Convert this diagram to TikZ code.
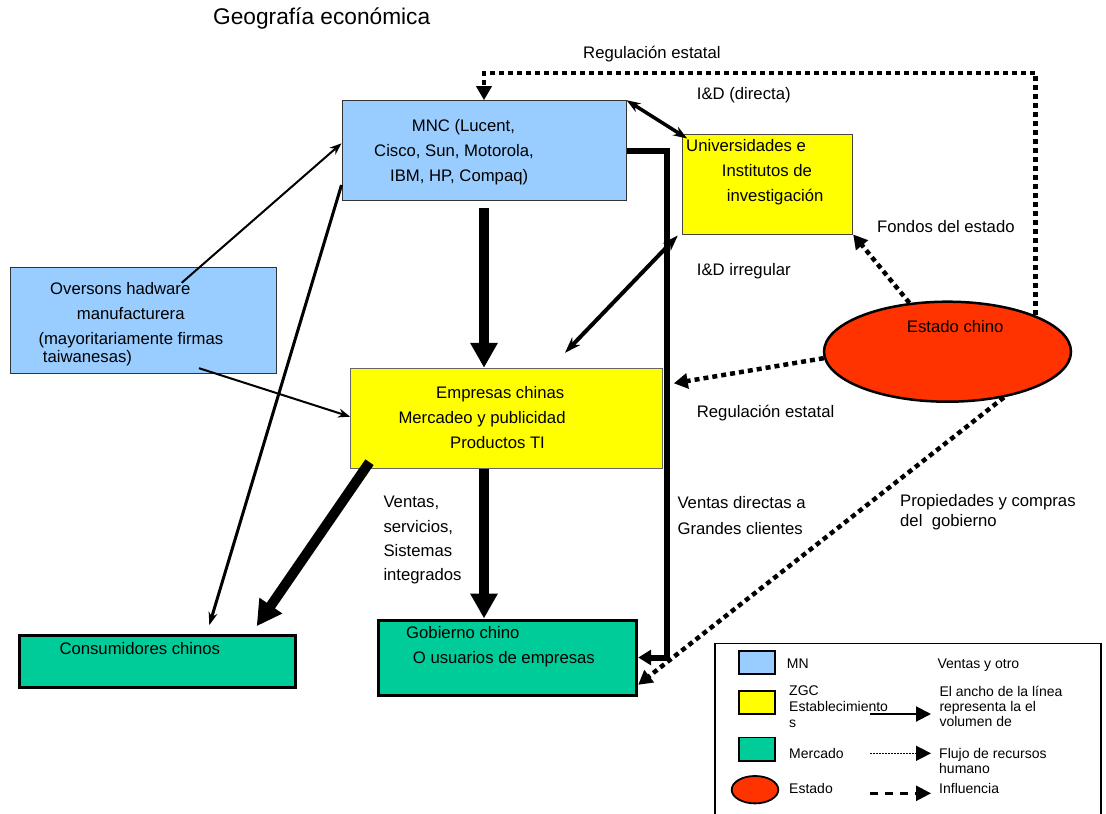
\documentclass[tikz,border=0pt]{standalone}
\usepackage{fontspec}
\setmainfont{Liberation Sans}
\usetikzlibrary{arrows.meta,shapes.geometric}
\definecolor{mnblue}{HTML}{99CCFF}
\definecolor{zgcyellow}{HTML}{FFFF00}
\definecolor{mktgreen}{HTML}{00CC99}
\definecolor{estred}{HTML}{FF3300}
\begin{document}
\begin{tikzpicture}[x=1pt,y=-1pt,
  boxthin/.style={rectangle, draw=black!80, line width=1pt, inner sep=0pt},
  boxthick/.style={rectangle, draw=black, line width=3pt, inner sep=0pt},
  txt/.style={anchor=base west, inner sep=0pt, align=left, font=\fontsize{16.7pt}{25pt}\selectfont},
  lgd/.style={anchor=base west, inner sep=0pt, align=left, font=\fontsize{14pt}{16pt}\selectfont},
  infl/.style={line width=4.5pt, dash pattern=on 5pt off 4pt, line join=miter, -{Triangle[length=14pt,width=15pt]}},
  heavy/.style={line width=10pt, -{Triangle[length=25pt,width=26pt]}},
  thinarr/.style={line width=2pt, -{Stealth[length=12pt,width=9pt]}},
  medarr/.style={line width=3pt, -{Stealth[length=13pt,width=9pt]}},
  dblarr/.style={line width=3.5pt, {Stealth[length=14pt,width=10pt]}-{Stealth[length=14pt,width=10pt]}},
  swatch/.style={rectangle, draw=black, line width=1.8pt, inner sep=0pt, minimum width=35.7pt, minimum height=23.6pt}
]
\useasboundingbox (0,0) rectangle (1106,814);
\fill[white] (0,0) rectangle (1106,814);

% boxes
\node[boxthin, fill=mnblue, minimum width=284pt, minimum height=100pt] (mnc) at (484,150.7) {};
\node[boxthin, draw=black!70!yellow!60!black, fill=zgcyellow, minimum width=170pt, minimum height=100pt] (uni) at (767.7,184) {};
\node[boxthin, fill=mnblue, minimum width=266pt, minimum height=106pt] (ove) at (143,320.3) {};
\node[boxthin, draw=black!60, fill=zgcyellow, minimum width=312pt, minimum height=100pt] (emp) at (506.7,418.3) {};
\node[boxthick, fill=mktgreen, minimum width=276pt, minimum height=51.6pt] (con) at (157,661.5) {};
\node[boxthick, fill=mktgreen, minimum width=258.4pt, minimum height=75pt] (gob) at (507.5,657.5) {};
\node[ellipse, draw=black, line width=2.5pt, fill=estred, minimum width=247pt, minimum height=100pt, inner sep=0pt] (est) at (947.5,351.7) {};

% box texts (multi-line nodes are placed at the baseline of their last line)
\node[txt, font=\fontsize{22.7pt}{26pt}\selectfont] (tTitle) at (213,24) {Geografía económica};
\node[txt] (tMNC) at (374,181.7) {\hspace*{37.7pt}MNC (Lucent,\\Cisco, Sun, Motorola,\\\hspace*{16pt}IBM, HP, Compaq)};
\node[txt] (tUni) at (686,201.7) {Universidades e\\\hspace*{35.7pt}Institutos de\\\hspace*{40.7pt}investigación};
\node[txt] (tOve) at (38.3,362.7) {\hspace*{11.7pt}Oversons hadware\\\hspace*{38.4pt}manufacturera\\(mayoritariamente firmas\\[-6.6pt]\hspace*{4.4pt}taiwanesas)};
\node[txt] (tEmp) at (398.3,448.3) {\hspace*{37.7pt}Empresas chinas\\Mercadeo y publicidad\\\hspace*{51.7pt}Productos TI};
\node[txt] (tCon) at (59.3,654.3) {Consumidores chinos};
\node[txt] (tGob) at (406,663.3) {Gobierno chino\\\hspace*{6.7pt}O usuarios de empresas};
\node[txt] (tEst) at (906.7,332.7) {Estado chino};

% connector labels
\node[txt] (lReg1) at (583,58.7) {Regulación estatal};
\node[txt] (lIDd) at (696.7,99.3) {I\&D (directa)};
\node[txt] (lFon) at (877,232.5) {Fondos del estado};
\node[txt] (lIDi) at (696.7,275.3) {I\&D irregular};
\node[txt] (lReg2) at (696.7,417) {Regulación estatal};
\node[txt, font=\fontsize{16.7pt}{24.4pt}\selectfont] (lVen) at (383.3,580.9) {Ventas,\\servicios,\\Sistemas\\integrados};
\node[txt, font=\fontsize{16.7pt}{25.6pt}\selectfont] (lVdir) at (677.3,534.3) {Ventas directas a\\Grandes clientes};
\node[txt, font=\fontsize{16.7pt}{19.3pt}\selectfont] (lProp) at (900,526) {Propiedades y compras\\del\ \ gobierno};

% connectors
\draw[infl] (est.north east) |- ([yshift=27pt]mnc.north) -- (mnc.north);
\draw[dblarr] (mnc.north east) -- ([shift={(5,5)}]uni.north west);
\draw[line width=6pt, line join=miter, -{Triangle[length=13pt,width=15pt]}] (mnc.east) -| ([xshift=29pt]gob.east) -- (gob.east);
\draw[heavy] ([yshift=-7pt]mnc.south) -- (mnc.south |- emp.north);
\draw[heavy] (mnc.south |- emp.south) -- (mnc.south |- gob.north);
\draw[heavy] ([shift={(19.3,-6.6)}]emp.south west) -- ([shift={(99.7,-8)}]con.north);
\draw[medarr] ([shift={(0,34.3)}]mnc.west) -- ([shift={(52.3,-9)}]con.north);
\draw[thinarr] ([shift={(38.7,16)}]ove.north) -- ([shift={(0,-7.4)}]mnc.west);
\draw[thinarr] ([shift={(56,-5.6)}]ove.south) -- ([shift={(0,-1.6)}]emp.west);
\draw[line width=4pt, {Stealth[length=16pt,width=11pt]}-{Stealth[length=16pt,width=11pt]}] ([shift={(-4.4,1)}]uni.south west) -- ([shift={(58.3,-15)}]emp.north);
\draw[infl] (est.128) -- (uni.south east);
\draw[infl] (est.183) -- ([shift={(10.6,-35)}]emp.east);
\draw[infl] (est.321) -- ([shift={(0,-11.7)}]gob.south east);

% legend
\draw[line width=1.5pt] (715,818) -- (715,643.3) -- (1101,643.3) -- (1101,818);
\node[swatch, fill=mnblue] (sMN) at (757.2,662.5) {};
\node[swatch, fill=zgcyellow] (sZGC) at (757.2,702.5) {};
\node[swatch, fill=mktgreen] (sMer) at (757.2,749.2) {};
\node[ellipse, draw=black, line width=1.8pt, fill=estred, minimum width=46.6pt, minimum height=27.4pt, inner sep=0pt] (sEst) at (755,789.7) {};
\node[lgd] (gMN) at (786.7,668.3) {MN};
\node[lgd] (gVen) at (937.3,668.3) {Ventas y otro};
\node[lgd] (gZGC) at (789,727) {ZGC\\Establecimiento\\s};
\node[lgd, font=\fontsize{14pt}{15pt}\selectfont] (gAnc) at (939.3,726.7) {El ancho de la línea\\representa la el\\volumen de};
\node[lgd] (gMer) at (789,758.3) {Mercado};
\node[lgd, font=\fontsize{14pt}{15pt}\selectfont] (gFlu) at (939,773.3) {Flujo de recursos\\humano};
\node[lgd] (gEst) at (789,793.3) {Estado};
\node[lgd] (gInf) at (939,793.3) {Influencia};
\coordinate (a1) at (870,714);
\coordinate (a2) at (931,714);
\coordinate (b1) at (870,753.3);
\coordinate (b2) at (931,753.3);
\coordinate (c1) at (870,793.3);
\coordinate (c2) at (931,793.3);
\draw[line width=2pt, -{Triangle[length=15pt,width=15pt]}] (a1) -- (a2);
\draw[line width=1.5pt, dash pattern=on 1.5pt off 1.5pt, -{Triangle[length=15pt,width=15pt]}] (b1) -- (b2);
\draw[line width=2.5pt, dash pattern=on 8pt off 7pt, -{Triangle[length=15pt,width=15pt]}] (c1) -- (c2);
\end{tikzpicture}
\end{document}
